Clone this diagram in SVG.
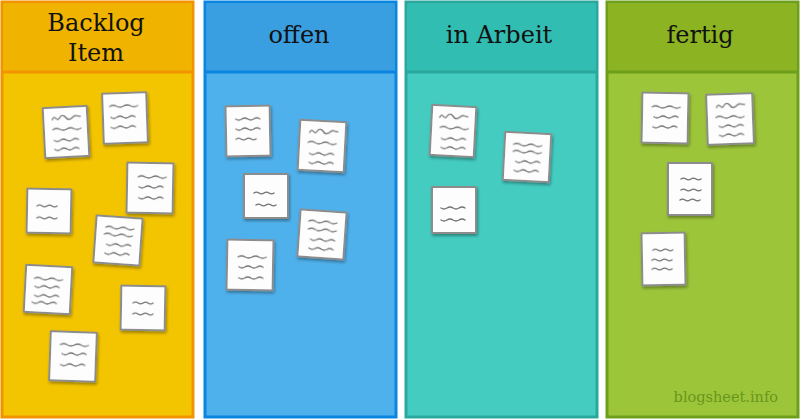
<svg xmlns="http://www.w3.org/2000/svg" width="800" height="420" viewBox="0 0 800 420">
<style>
.col{stroke-width:3}
.title{font-family:"DejaVu Serif","Liberation Serif",serif;font-size:24px;fill:#111;text-anchor:middle}
.note rect{fill:#fdfdfd;stroke:#8c8c8c;stroke-width:2;stroke-linejoin:round}
.note use{fill:none;stroke:#727272;stroke-width:1.4;stroke-linecap:round}
.note{filter:url(#sh)}
.wm{font-family:"DejaVu Serif","Liberation Serif",serif;font-size:14.5px;fill:#6a961c;text-anchor:end}
</style>
<defs>
<filter id="sh" x="-30%" y="-30%" width="160%" height="160%">
<feDropShadow dx="1" dy="2" stdDeviation="1.5" flood-color="#000" flood-opacity="0.35"/>
</filter>
<path id="l1" d="M-14,0 q3.5,-2 7,0 t7,0 t7,0 t7,0"/>
<path id="l2" d="M-12,0 q3,2 6,0 t6,0 t6,0 t6,0"/>
<path id="l3" d="M-14,0 c2,-6 5,3 7,-1 s5,-3 7,0 s5,1 7,-1 s5,0 7,0"/>
<path id="l4" d="M-10,0 q2.5,-1.8 5,0 t5,0 t5,0 t5,0"/>
</defs>
<rect width="800" height="420" fill="#fff"/>

<g id="col-backlog">
<rect class="col" x="2" y="2" width="191" height="415" fill="#F3C500" stroke="#F29400"/>
<rect x="3.5" y="3.5" width="188" height="68" fill="#F0B400"/>
<line x1="2" y1="72" x2="193" y2="72" stroke="#F29400" stroke-width="3"/>
<text class="title" x="96" y="31">Backlog</text>
<text class="title" x="96" y="61">Item</text>
</g>
<g id="col-offen">
<rect class="col" x="205" y="2" width="191" height="415" fill="#4FB1EC" stroke="#0A85E0"/>
<rect x="206.5" y="3.5" width="188" height="68" fill="#3A9FE0"/>
<line x1="205" y1="72" x2="396" y2="72" stroke="#0A85E0" stroke-width="3"/>
<text class="title" x="299" y="43">offen</text>
</g>
<g id="col-arbeit">
<rect class="col" x="406" y="2" width="191" height="415" fill="#44CCC1" stroke="#2AA89E"/>
<rect x="407.5" y="3.5" width="188" height="68" fill="#31BDB2"/>
<line x1="406" y1="72" x2="597" y2="72" stroke="#2AA89E" stroke-width="3"/>
<text class="title" x="499" y="43">in Arbeit</text>
</g>
<g id="col-fertig">
<rect class="col" x="607" y="2" width="191" height="415" fill="#9CC53A" stroke="#6E9F1C"/>
<rect x="608.5" y="3.5" width="188" height="68" fill="#8BB322"/>
<line x1="607" y1="72" x2="798" y2="72" stroke="#6E9F1C" stroke-width="3"/>
<text class="title" x="700" y="43">fertig</text>
<text class="wm" x="778" y="402">blogsheet.info</text>
</g>

<!-- Backlog notes -->
<g id="b1" class="note" transform="translate(66,132) rotate(-3)"><rect x="-22" y="-25" width="44" height="50"/><use href="#l3" x="1" y="-13"/><use href="#l1" x="1" y="-3"/><use href="#l2" x="0" y="8"/><use href="#l2" x="0" y="17"/></g>
<g id="b2" class="note" transform="translate(125,118) rotate(-2)"><rect x="-22" y="-25" width="44" height="50"/><use href="#l1" x="-1" y="-12"/><use href="#l2" x="-2" y="-1"/><use href="#l2" x="-2" y="9"/></g>
<g id="b3" class="note" transform="translate(150,188) rotate(1)"><rect x="-23" y="-25" width="46" height="50"/><use href="#l1" x="2" y="-11"/><use href="#l2" x="1" y="-1"/><use href="#l2" x="1" y="10"/></g>
<g id="b4" class="note" transform="translate(49,211) rotate(1)"><rect x="-22" y="-22" width="44" height="44"/><use href="#l4" x="-2" y="-5"/><use href="#l4" x="-2" y="7"/></g>
<g id="b5" class="note" transform="translate(118,240) rotate(4)"><rect x="-23" y="-23" width="46" height="47"/><use href="#l1" x="1" y="-12"/><use href="#l1" x="0" y="-5"/><use href="#l2" x="1" y="5"/><use href="#l2" x="0" y="14"/></g>
<g id="b6" class="note" transform="translate(48,289) rotate(3)"><rect x="-23" y="-23" width="46" height="47"/><use href="#l1" x="0" y="-10"/><use href="#l2" x="-1" y="-2"/><use href="#l2" x="-1" y="7"/><use href="#l2" x="-3" y="14"/></g>
<g id="b7" class="note" transform="translate(143,308) rotate(1)"><rect x="-22" y="-22" width="44" height="44"/><use href="#l4" x="0" y="-5"/><use href="#l4" x="0" y="6"/></g>
<g id="b8" class="note" transform="translate(73,356) rotate(2)"><rect x="-23" y="-24" width="46" height="49"/><use href="#l1" x="1" y="-11"/><use href="#l2" x="1" y="-2"/><use href="#l2" x="0" y="9"/></g>

<!-- offen notes -->
<g id="o1" class="note" transform="translate(248,131) rotate(-1)"><rect x="-22" y="-25" width="44" height="50"/><use href="#l2" x="0" y="-12"/><use href="#l2" x="0" y="-2"/><use href="#l4" x="-2" y="8"/></g>
<g id="o2" class="note" transform="translate(322,146) rotate(3)"><rect x="-23" y="-25" width="46" height="50"/><use href="#l3" x="1" y="-13"/><use href="#l1" x="0" y="-3"/><use href="#l2" x="0" y="8"/><use href="#l2" x="0" y="17"/></g>
<g id="o3" class="note" transform="translate(266,196) rotate(0)"><rect x="-22" y="-22" width="44" height="44"/><use href="#l4" x="-2" y="-3"/><use href="#l4" x="0" y="9"/></g>
<g id="o4" class="note" transform="translate(322,234) rotate(4)"><rect x="-23" y="-23" width="46" height="47"/><use href="#l1" x="0" y="-12"/><use href="#l1" x="0" y="-4"/><use href="#l2" x="1" y="6"/><use href="#l2" x="0" y="15"/></g>
<g id="o5" class="note" transform="translate(250,265) rotate(1)"><rect x="-23" y="-25" width="46" height="50"/><use href="#l1" x="2" y="-8"/><use href="#l2" x="1" y="2"/><use href="#l2" x="1" y="13"/></g>

<!-- in Arbeit notes -->
<g id="a1" class="note" transform="translate(453,131) rotate(3)"><rect x="-22" y="-25" width="44" height="50"/><use href="#l3" x="0" y="-13"/><use href="#l1" x="1" y="-3"/><use href="#l2" x="1" y="8"/><use href="#l2" x="1" y="17"/></g>
<g id="a2" class="note" transform="translate(527,157) rotate(3)"><rect x="-23" y="-24" width="46" height="48"/><use href="#l1" x="0" y="-12"/><use href="#l1" x="0" y="-5"/><use href="#l2" x="1" y="5"/><use href="#l2" x="0" y="14"/></g>
<g id="a3" class="note" transform="translate(454,210) rotate(0)"><rect x="-22" y="-23" width="44" height="46"/><use href="#l2" x="-1" y="-2"/><use href="#l2" x="-1" y="10"/></g>

<!-- fertig notes -->
<g id="f1" class="note" transform="translate(665,118) rotate(1)"><rect x="-23" y="-25" width="46" height="50"/><use href="#l1" x="1" y="-11"/><use href="#l2" x="1" y="-1"/><use href="#l2" x="0" y="9"/></g>
<g id="f2" class="note" transform="translate(730,119) rotate(-2)"><rect x="-23" y="-25" width="46" height="50"/><use href="#l3" x="1" y="-12"/><use href="#l1" x="0" y="-2"/><use href="#l2" x="1" y="7"/><use href="#l2" x="1" y="16"/></g>
<g id="f3" class="note" transform="translate(690,189) rotate(0)"><rect x="-22" y="-26" width="44" height="52"/><use href="#l4" x="1" y="-10"/><use href="#l4" x="1" y="1"/><use href="#l4" x="0" y="11"/></g>
<g id="f4" class="note" transform="translate(663,259) rotate(-1)"><rect x="-21" y="-26" width="43" height="52"/><use href="#l4" x="0" y="-9"/><use href="#l4" x="-1" y="1"/><use href="#l4" x="-1" y="10"/></g>
</svg>
